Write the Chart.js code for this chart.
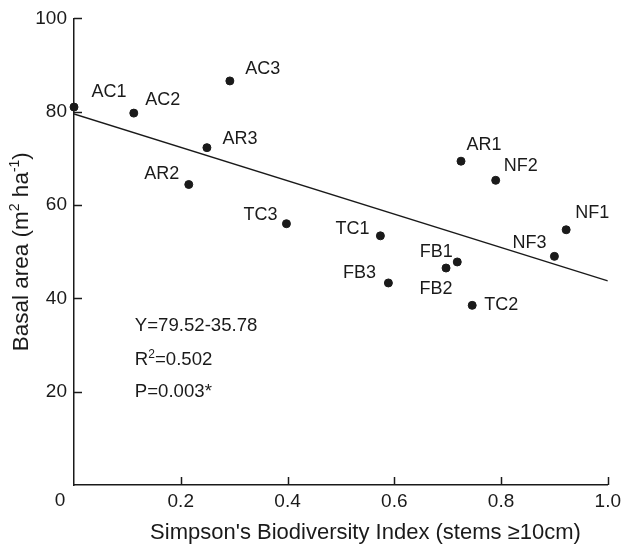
<!DOCTYPE html>
<html>
<head>
<meta charset="utf-8">
<script src="https://cdn.jsdelivr.net/npm/chart.js@4.4.0/dist/chart.umd.min.js"></script>
<style>
  html, body { margin: 0; padding: 0; background: #fff; }
  #chart { display: block; }
</style>
</head>
<body>
<canvas id="chart" width="626" height="547"></canvas>
<script>
// sites and values
const siteNames    = ['AC1', 'AC2', 'AC3', 'AR1', 'AR2', 'AR3', 'TC1', 'TC2', 'TC3', 'FB1', 'FB2', 'FB3', 'NF1', 'NF2', 'NF3'];
const simpsonIndex = [0.000, 0.112, 0.292, 0.725, 0.215, 0.249, 0.574, 0.746, 0.398, 0.718, 0.697, 0.589, 0.922, 0.790, 0.900];
const basalArea    = [81.0,  79.7,  86.6,  69.4,  64.4,  72.3,  53.4,  38.5,  56.0,  47.8,  46.5,  43.3,  54.7,  65.3,  49.0];

// regression Y = 79.52 - 35.78 X
const fitIntercept = 79.52;
const fitSlope = -35.78;

const xTicks = [0, 0.2, 0.4, 0.6, 0.8, 1.0];
const yTicks = [0, 20, 40, 60, 80, 100];

// even index = normal text, odd index = superscript
const statLines = [['Y=79.52-35.78'], ['R', '2', '=0.502'], ['P=0.003*']];
const xTitle = "Simpson's Biodiversity Index (stems \u226510cm)";
const yTitle = ['Basal area (m', '2', ' ha', '-1', ')'];

const ink = '#1a1a1a';
const family = '"Liberation Sans", Arial, Helvetica, sans-serif';

// label offset from its dot, px
const labelOffsets = {
    AC1: [35, -15], AC2: [29, -13], AC3: [33, -12],
    AR1: [23, -16], AR2: [-27, -10], AR3: [33, -9],
    TC1: [-28, -7], TC2: [29, 0], TC3: [-26, -9],
    FB1: [-21, -10], FB2: [-10, 21], FB3: [-29, -10],
    NF1: [26, -17], NF2: [25, -14], NF3: [-25, -13]
};

function drawRich(ctx, parts, x, y, size, align) {
    const supSize = Math.round(size * 0.62);
    let total = 0;
    parts.forEach((p, i) => {
        ctx.font = (i % 2 ? supSize : size) + 'px ' + family;
        total += ctx.measureText(p).width;
    });
    let cx = align === 'center' ? x - total / 2 : x;
    ctx.textAlign = 'left';
    ctx.textBaseline = 'middle';
    parts.forEach((p, i) => {
        const sup = i % 2 === 1;
        ctx.font = (sup ? supSize : size) + 'px ' + family;
        ctx.fillText(p, cx, sup ? y - size * 0.3 : y);
        cx += ctx.measureText(p).width;
    });
}

const overlay = {
    id: 'overlay',
    afterDraw(chart) {
        const ctx = chart.ctx;
        const xs = chart.scales.x;
        const ys = chart.scales.y;
        const area = chart.chartArea;
        ctx.save();

        // inward tick marks
        ctx.strokeStyle = ink;
        ctx.lineWidth = 1.5;
        yTicks.forEach(v => {
            if (v === 0) return;
            const py = Math.round(ys.getPixelForValue(v)) + 0.5;
            ctx.beginPath();
            ctx.moveTo(area.left, py);
            ctx.lineTo(area.left + 8, py);
            ctx.stroke();
        });
        xTicks.forEach(v => {
            if (v === 0) return;
            const px = Math.round(xs.getPixelForValue(v)) + 0.5;
            ctx.beginPath();
            ctx.moveTo(px, area.bottom);
            ctx.lineTo(px, area.bottom - 8);
            ctx.stroke();
        });

        ctx.fillStyle = ink;
        ctx.textAlign = 'center';
        ctx.textBaseline = 'middle';

        // shared origin label
        ctx.font = '19px ' + family;
        ctx.fillText('0', xs.getPixelForValue(0) - 14, ys.getPixelForValue(0) + 16);

        // site labels
        ctx.font = '18px ' + family;
        chart.getDatasetMeta(0).data.forEach((pt, i) => {
            const off = labelOffsets[siteNames[i]];
            ctx.fillText(siteNames[i], pt.x + off[0], pt.y + off[1]);
        });

        // regression stats
        const statY = [34, 26.8, 19.9];
        statLines.forEach((parts, i) => {
            drawRich(ctx, parts, xs.getPixelForValue(0.114), ys.getPixelForValue(statY[i]), 18.6, 'left');
        });

        // axis titles
        ctx.font = '22px ' + family;
        ctx.textAlign = 'center';
        ctx.fillText(xTitle, xs.getPixelForValue(0.546), area.bottom + 48);

        ctx.save();
        ctx.translate(22, (area.top + area.bottom) / 2);
        ctx.rotate(-Math.PI / 2);
        drawRich(ctx, yTitle, 0, 0, 22.5, 'center');
        ctx.restore();

        ctx.restore();
    }
};

const ctx = document.getElementById('chart').getContext('2d');
const chart = new Chart(ctx, {
    type: 'scatter',
    data: {
        datasets: [
            {
                label: 'Sites',
                data: simpsonIndex.map((x, i) => ({ x: x, y: basalArea[i] })),
                backgroundColor: ink,
                borderColor: ink,
                pointRadius: 4,
                pointHoverRadius: 4,
                clip: false
            },
            {
                type: 'line',
                label: 'Fit',
                data: [0, 1].map(x => ({ x: x, y: fitIntercept + fitSlope * x })),
                borderColor: ink,
                borderWidth: 1.3,
                pointRadius: 0,
                fill: false
            }
        ]
    },
    options: {
        responsive: false,
        animation: false,
        events: [],
        layout: { padding: { top: 16, right: 17, left: 0, bottom: 0 } },
        plugins: {
            legend: { display: false },
            tooltip: { enabled: false }
        },
        scales: {
            x: {
                type: 'linear',
                min: 0,
                max: 1,
                afterBuildTicks: scale => { scale.ticks = xTicks.map(v => ({ value: v })); },
                afterFit: scale => { scale.height = 62; },
                grid: { display: false, drawTicks: false },
                border: { display: true, color: ink, width: 1.5 },
                ticks: {
                    color: ink,
                    padding: 5,
                    font: { family: family, size: 19 },
                    callback: v => (v === 0 ? '' : v.toFixed(1))
                }
            },
            y: {
                type: 'linear',
                min: 0,
                max: 100,
                afterBuildTicks: scale => { scale.ticks = yTicks.map(v => ({ value: v })); },
                afterFit: scale => { scale.width = 74; },
                grid: { display: false, drawTicks: false },
                border: { display: true, color: ink, width: 1.5 },
                ticks: {
                    color: ink,
                    padding: 7,
                    font: { family: family, size: 19 },
                    callback: v => (v === 0 ? '' : String(v))
                }
            }
        }
    },
    plugins: [overlay]
});
</script>
</body>
</html>
